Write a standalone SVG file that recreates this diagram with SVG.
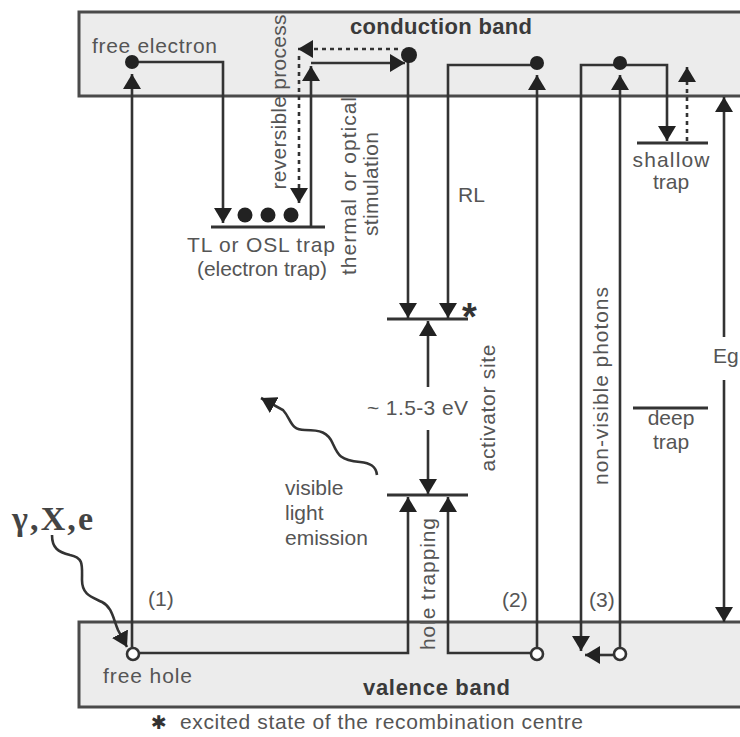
<svg xmlns="http://www.w3.org/2000/svg" width="740" height="737" viewBox="0 0 740 737">
<defs>
<style>
.band{fill:#ececec;stroke:#4a4a4a;stroke-width:3}
.ln{fill:none;stroke:#333;stroke-width:2.6}
.dl{fill:none;stroke:#333;stroke-width:2.6;stroke-dasharray:4 4}
.lvl{fill:none;stroke:#333;stroke-width:3}
.dot{fill:#222}
.hole{fill:#fff;stroke:#333;stroke-width:2.6}
text{font-family:"Liberation Sans",Arial,sans-serif;font-size:21px;fill:#555}
.b{font-weight:bold;font-size:22px;fill:#3a3a3a}
.g{font-family:"Liberation Serif","Times New Roman",serif;font-weight:bold;font-size:34px;fill:#444}
</style>
<marker id="ah" viewBox="0 0 15 18" refX="15" refY="9" markerWidth="15" markerHeight="18" orient="auto" markerUnits="userSpaceOnUse"><path d="M0,0 L15,9 L0,18 z" fill="#222"/></marker>
</defs>

<g id="conduction-band">
<rect class="band" x="79" y="12" width="700" height="84"/>
<text class="b" x="350" y="34" textLength="182" lengthAdjust="spacing">conduction band</text>
</g>
<g id="valence-band">
<rect class="band" x="79" y="622" width="700" height="85"/>
<text class="b" x="363" y="695" textLength="147" lengthAdjust="spacing">valence band</text>
</g>

<g id="tl-trap">
<line class="lvl" x1="211" y1="227" x2="325" y2="227"/>
<circle class="dot" cx="245" cy="215" r="7.5"/>
<circle class="dot" cx="268" cy="215" r="7.5"/>
<circle class="dot" cx="291" cy="215" r="7.5"/>
<text x="187" y="252" textLength="148" lengthAdjust="spacing">TL or OSL trap</text>
<text x="197" y="276" textLength="130" lengthAdjust="spacing">(electron trap)</text>
</g>

<g id="activator-upper">
<line class="lvl" x1="387" y1="319" x2="468" y2="319"/>
<text x="462" y="330" style="font-size:38px;font-weight:bold;fill:#333">*</text>
</g>
<g id="activator-lower">
<line class="lvl" x1="387" y1="495" x2="468" y2="495"/>
</g>
<g id="shallow-trap">
<line class="lvl" x1="637" y1="143" x2="708" y2="143"/>
<text x="671" y="167" text-anchor="middle" textLength="77" lengthAdjust="spacing">shallow</text>
<text x="671" y="189" text-anchor="middle">trap</text>
</g>
<g id="deep-trap">
<line class="lvl" x1="633" y1="408" x2="708" y2="408"/>
<text x="671" y="425" text-anchor="middle">deep</text>
<text x="671" y="449" text-anchor="middle">trap</text>
</g>

<g id="connectors">
<path class="ln" d="M132,647 V74" marker-end="url(#ah)"/>
<path class="ln" d="M132,62 H223 V223" marker-end="url(#ah)"/>
<path class="ln" d="M311,227 V66" marker-end="url(#ah)"/>
<path class="ln" d="M311,63 H405" marker-end="url(#ah)"/>
<path class="dl" d="M398,49 H298" marker-end="url(#ah)"/>
<path class="dl" d="M299,56 V203" marker-end="url(#ah)"/>
<path class="ln" d="M408,55 V318" marker-end="url(#ah)"/>
<path class="ln" d="M537,65 H448 V318" marker-end="url(#ah)"/>
<path class="ln" d="M537,647 V75" marker-end="url(#ah)"/>
<path class="ln" d="M620,647 V75" marker-end="url(#ah)"/>
<path class="ln" d="M620,65 H581 V651" marker-end="url(#ah)"/>
<path class="ln" d="M613,655 H585" marker-end="url(#ah)"/>
<path class="ln" d="M620,65 H667 V141" marker-end="url(#ah)"/>
<path class="dl" d="M687,141 V67" marker-end="url(#ah)"/>
<path class="ln" d="M724,337 V97" marker-end="url(#ah)"/>
<path class="ln" d="M724,380 V622" marker-end="url(#ah)"/>
<path class="ln" d="M428,387 V321" marker-end="url(#ah)"/>
<path class="ln" d="M428,430 V494" marker-end="url(#ah)"/>
<path class="ln" d="M140,653 H408 V497" marker-end="url(#ah)"/>
<path class="ln" d="M530,653 H448 V497" marker-end="url(#ah)"/>
<path class="ln" d="M52,535 C52,548 58,552 70,555 C84,558 82,565 82,580 C82,595 92,597 102,602 C112,607 113,618 118,630 L127,647" marker-end="url(#ah)"/>
<path class="ln" d="M377,475 C376,466 370,463 360,462 C340,460 338,455 333,444 C328,432 320,430 305,430 C290,430 292,420 283,410 L261,398" marker-end="url(#ah)"/>
<circle class="dot" cx="132" cy="62" r="7"/>
<circle class="dot" cx="409" cy="55" r="8"/>
<circle class="dot" cx="537" cy="63" r="7"/>
<circle class="dot" cx="620" cy="63" r="7"/>
<circle class="hole" cx="133" cy="654" r="6"/>
<circle class="hole" cx="537" cy="654" r="6"/>
<circle class="hole" cx="620" cy="654" r="6"/>
</g>

<g id="labels">
<text x="92" y="53" textLength="125" lengthAdjust="spacing">free electron</text>
<text transform="translate(286,102) rotate(-90)" text-anchor="middle" textLength="175" lengthAdjust="spacing">reversible process</text>
<text transform="translate(356,186) rotate(-90)" text-anchor="middle" textLength="178" lengthAdjust="spacing">thermal or optical</text>
<text transform="translate(378,184) rotate(-90)" text-anchor="middle" textLength="104" lengthAdjust="spacing">stimulation</text>
<text x="458" y="202">RL</text>
<text x="367" y="415" textLength="101" lengthAdjust="spacing">~ 1.5-3 eV</text>
<text transform="translate(495,408) rotate(-90)" text-anchor="middle" textLength="127" lengthAdjust="spacing">activator site</text>
<text x="285" y="495">visible</text>
<text x="285" y="520">light</text>
<text x="285" y="545">emission</text>
<text class="g" x="12" y="530" textLength="81" lengthAdjust="spacing">γ,X,e</text>
<text x="148" y="606">(1)</text>
<text x="502" y="607">(2)</text>
<text x="589" y="607">(3)</text>
<text transform="translate(435,584) rotate(-90)" text-anchor="middle" textLength="132" lengthAdjust="spacing">hole trapping</text>
<text transform="translate(608,386) rotate(-90)" text-anchor="middle" textLength="198" lengthAdjust="spacing">non-visible photons</text>
<text x="713" y="363">Eg</text>
<text x="103" y="683" textLength="89" lengthAdjust="spacing">free hole</text>
<text x="151" y="729" style="font-family:'DejaVu Sans',sans-serif;font-size:19px;fill:#333">✱</text>
<text x="180" y="729" textLength="403" lengthAdjust="spacing">excited state of the recombination centre</text>
</g>
</svg>
